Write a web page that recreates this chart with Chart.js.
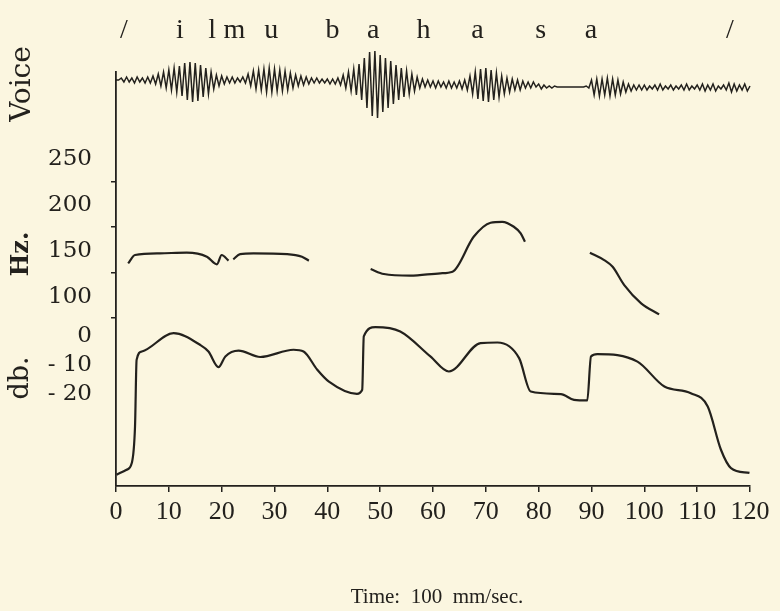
<!DOCTYPE html>
<html>
<head>
<meta charset="utf-8">
<script src="https://cdn.jsdelivr.net/npm/chart.js@4.4.1/dist/chart.umd.min.js"></script>
<style>
  html, body { margin: 0; padding: 0; background: #fbf6e0; }
  #wrap { width: 780px; height: 611px; }
</style>
</head>
<body>
<div id="wrap"><canvas id="cv" width="780" height="611"></canvas></div>
<script>
// phonetic segments along the time axis
const segLabels = ['/', 'i', 'l', 'm', 'u', 'b', 'a', 'h', 'a', 's', 'a', '/'];
const segTimes = [1.5, 12.1, 18.2, 22.4, 29.4, 41, 48.7, 58.2, 68.4, 80.4, 89.9, 116.2];

// oscillogram, one sample every half time unit (read peak by peak)
const voiceStep = 0.5;
const voiceAmp = [
  2, 2, 4, 0, 5, 0, 4, -1, 5, 0, 4, -1, 5, -1, 6, -2, 8, -4, 10, -6,
  12, -8, 14, -10, 16, -14, 19, -18, 20, -20, 19, -19, 17, -15, 14, -12, 10, -7, 7, -4,
  6, -2, 5, -1, 5, -1, 4, 0, 5, -1, 8, -4, 11, -7, 12, -8, 13, -10, 14, -10,
  13, -9, 12, -9, 11, -8, 9, -6, 7, -4, 6, -3, 5, -2, 4, -1, 4, -1, 3, -1,
  3, -2, 3, -2, 4, -3, 7, -6, 10, -9, 13, -13, 18, -18, 24, -26, 30, -34, 31, -36,
  27, -30, 24, -26, 21, -22, 17, -18, 14, -15, 11, -12, 8, -9, 5, -6, 3, -5, 2, -5,
  1, -6, 1, -5, 0, -6, 1, -6, 0, -6, 1, -7, 2, -8, 6, -12, 10, -17, 13, -19,
  14, -20, 12, -18, 9, -15, 6, -12, 4, -10, 3, -8, 2, -8, 1, -6, 0, -6, 0, -5,
  -2, -7, -3, -6, -4, -6, -4, -5, -5, -5, -5, -5, -5, -5, -5, -5, -5, -5, -4, -6,
  2, -13, 3, -14, 3, -13, 4, -14, 3, -13, 2, -12, 0, -10, -2, -9, -3, -8, -3, -8,
  -3, -8, -4, -7, -3, -8, -2, -8, -4, -7, -3, -8, -4, -7, -3, -8, -2, -8, -4, -7,
  -3, -8, -2, -9, -3, -8, -2, -9, -4, -7, -3, -8, -1, -10, -2, -9, -3, -8, -2, -9,
  -4, -7, -5, -6
];

// fundamental frequency (Hz), null = break in the trace
const hzTime = [2.3, 3.6, 8.3, 13.4, 17.2, 19.1, 20.0, 21.3, 21.8,
  22.2, 23.5, 26.0, 32.4, 35.2, 36.5, 42,
  48.2, 50.7, 55.7, 61.4, 63.7, 67.7, 70.9, 73.1, 75.3, 76.6, 77.4, 83,
  89.7, 92.4, 94.0, 96.2, 99.4, 102.8];
const hzValue = [136.6, 145.7, 147.5, 148.2, 143.8, 135.5, 145.7, 139.5, null,
  141.0, 146.7, 147.5, 146.7, 143.8, 139.5, null,
  130.4, 125.0, 123.2, 125.8, 127.5, 165.5, 180.8, 181.8, 176.4, 169.2, 160.1, null,
  148.2, 140.2, 132.9, 113.0, 93.2, 81.2];

// intensity (db)
const dbTime = [0.1, 2.0, 3.0, 3.6, 3.9, 4.9, 10.9, 15.9, 17.5, 19.4, 20.7, 23.2, 27.3, 33.6, 35.5,
  38.1, 40.3, 45.6, 46.6, 46.9, 49.1, 53.8, 59.5, 63.0, 69.0, 72.2, 76.3, 78.5, 84.2, 86.7,
  89.2, 89.9, 91.1, 98.7, 103.8, 108.8, 112.0, 114.5, 116.4, 119.9];
const dbValue = [-47.9, -46.2, -43.8, -31.3, -8.3, -5.4, 0.9, -3.1, -5.4, -10.8, -7.1, -5.1, -7.3, -4.8, -5.4,
  -11.7, -15.8, -20.0, -18.6, -0.2, 3.0, 1.5, -7.1, -12.3, -2.5, -2.3, -7.7, -19.2, -20.1, -22.1,
  -22.3, -7.1, -6.3, -8.9, -17.5, -19.8, -24.4, -39.3, -45.6, -47.3];

const hzTicks = [250, 200, 150, 100];
const dbTicks = [0, -10, -20];
const dbTickText = ['0', '- 10', '- 20'];
const frameTicks = [225, 176, 126, 77]; // marks on the left rule, in Hz units

const ink = '#23211d';
const serif = '"Liberation Serif", "Times New Roman", serif';
const book = '"DejaVu Serif", serif';

const voiceData = voiceAmp.map((v, i) => ({ x: i * voiceStep, y: v }));
const hzData = hzTime.map((t, i) => ({ x: t, y: hzValue[i] }));
const dbData = dbTime.map((t, i) => ({ x: t, y: dbValue[i] }));

const textPlugin = {
  id: 'figureText',
  afterDraw(chart) {
    const ctx = chart.ctx;
    const sx = chart.scales.x, sHz = chart.scales.yHz, sDb = chart.scales.yDb;
    ctx.save();
    ctx.fillStyle = ink;

    // phonetic transcription
    ctx.font = '28px ' + serif;
    ctx.textAlign = 'center';
    ctx.textBaseline = 'alphabetic';
    segLabels.forEach((s, i) => ctx.fillText(s, sx.getPixelForValue(segTimes[i]), 38));

    // left value labels
    ctx.font = '23px ' + book;
    ctx.textAlign = 'right';
    ctx.textBaseline = 'middle';
    hzTicks.forEach(v => ctx.fillText(String(v), 92, sHz.getPixelForValue(v)));
    dbTicks.forEach((v, i) => ctx.fillText(dbTickText[i], 92, sDb.getPixelForValue(v)));

    // rotated axis names
    const vert = (txt, x, y, font) => {
      ctx.save();
      ctx.translate(x, y);
      ctx.rotate(-Math.PI / 2);
      ctx.font = font;
      ctx.textAlign = 'center';
      ctx.textBaseline = 'middle';
      ctx.fillText(txt, 0, 0);
      ctx.restore();
    };
    vert('Voice', 23, 84, '28px ' + book);
    vert('Hz.', 22, 254, 'bold 24px ' + book);
    vert('db.', 21, 378, '27px ' + book);

    ctx.font = '21px ' + serif;
    ctx.textAlign = 'center';
    ctx.textBaseline = 'alphabetic';
    ctx.fillText('Time:  100  mm/sec.', 437, 603);
    ctx.restore();
  }
};

new Chart(document.getElementById('cv'), {
  type: 'line',
  data: {
    datasets: [
      { data: voiceData, yAxisID: 'yV', borderColor: ink, borderWidth: 1.5, pointRadius: 0, tension: 0, clip: false },
      { data: hzData, yAxisID: 'yHz', borderColor: ink, borderWidth: 2.2, pointRadius: 0, spanGaps: false, cubicInterpolationMode: 'monotone' },
      { data: dbData, yAxisID: 'yDb', borderColor: ink, borderWidth: 2.2, pointRadius: 0, cubicInterpolationMode: 'monotone' }
    ]
  },
  options: {
    responsive: false,
    animation: false,
    devicePixelRatio: 1,
    layout: { padding: { left: 110, top: 72, right: 30, bottom: 80 } },
    plugins: { legend: { display: false }, tooltip: { enabled: false } },
    scales: {
      x: {
        type: 'linear', min: 0, max: 120,
        ticks: { stepSize: 10, color: ink, font: { family: serif, size: 26 }, padding: 5, maxRotation: 0, autoSkip: false },
        grid: { drawOnChartArea: false, tickLength: 6, color: ink, lineWidth: 1.5 },
        border: { color: ink, width: 1.8 },
        afterFit(s) { s.height = 45; }
      },
      yHz: {
        type: 'linear', position: 'left', min: -105.4, max: 344.6,
        afterBuildTicks(s) { s.ticks = frameTicks.map(v => ({ value: v })); },
        ticks: { display: false },
        grid: { drawOnChartArea: false, tickLength: 5, color: ink, lineWidth: 1.5 },
        border: { color: ink, width: 1.8 },
        afterFit(s) { s.width = 6; }
      },
      yDb: { type: 'linear', display: false, min: -51.8, max: 91.0 },
      yV: { type: 'linear', display: false, min: -404, max: 10 }
    }
  },
  plugins: [textPlugin]
});
</script>
</body>
</html>
